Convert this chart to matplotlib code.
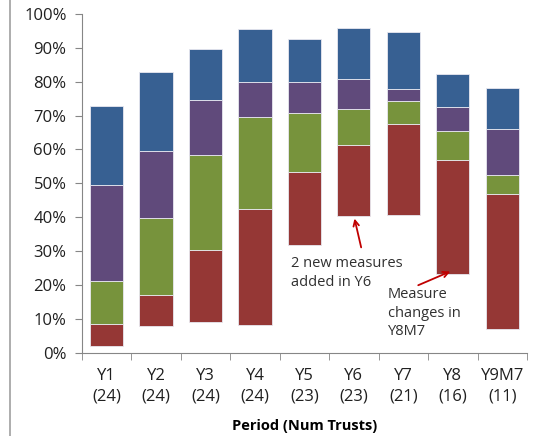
import numpy as np
import matplotlib.pyplot as plt
from matplotlib.lines import Line2D

periods = ["Y1", "Y2", "Y3", "Y4", "Y5", "Y6", "Y7", "Y8", "Y9M7"]
num_trusts = [24, 24, 24, 24, 23, 23, 21, 16, 11]

# level (fraction) at the bottom of each bar and at the top of each band
bottom = [0.021, 0.079, 0.092, 0.081, 0.319, 0.404, 0.407, 0.233, 0.069]
red_top = [0.086, 0.169, 0.303, 0.423, 0.534, 0.613, 0.676, 0.568, 0.469]
green_top = [0.212, 0.399, 0.583, 0.696, 0.707, 0.719, 0.742, 0.654, 0.525]
purple_top = [0.494, 0.595, 0.747, 0.799, 0.799, 0.809, 0.778, 0.724, 0.660]
blue_top = [0.728, 0.828, 0.898, 0.955, 0.925, 0.958, 0.946, 0.822, 0.782]

colors = ["#953735", "#77933C", "#604A7B", "#376092"]

plt.rcParams["font.family"] = ["Open Sans", "DejaVu Sans"]

fig = plt.figure(figsize=(5.35, 4.36), dpi=100)
ax = fig.add_axes([0.153, 0.191, 0.832, 0.777])

x = np.arange(len(periods))
levels = [bottom, red_top, green_top, purple_top, blue_top]
for k in range(4):
    lo = np.array(levels[k])
    hi = np.array(levels[k + 1])
    ax.bar(x, hi - lo, bottom=lo, width=0.67, color=colors[k],
           edgecolor="#e8e8f0", linewidth=0.6)

ax.set_xlim(-0.5, len(periods) - 0.5)
ax.set_ylim(0, 1)
yt = np.arange(0, 1.01, 0.1)
ax.set_yticks(yt)
ax.set_yticklabels([f"{int(round(v * 100))}%" for v in yt])
ax.set_xticks(x)
ax.set_xticklabels([f"{p}\n({n})" for p, n in zip(periods, num_trusts)],
                   linespacing=1.4)
ax.set_xticks(np.arange(-0.5, len(periods), 1), minor=True)
ax.tick_params(axis="x", which="major", length=0, pad=11, labelsize=12,
               colors="#202020")
ax.tick_params(axis="x", which="minor", length=5, color="#868686")
ax.tick_params(axis="y", length=5, pad=6, labelsize=12, colors="#202020")
ax.tick_params(axis="y", color="#868686")

for side in ["top", "right"]:
    ax.spines[side].set_visible(False)
for side in ["left", "bottom"]:
    ax.spines[side].set_color("#868686")

ax.set_xlabel("Period (Num Trusts)", fontsize=10.5, fontweight="bold",
              labelpad=10, color="#000000")

ax.annotate("", xy=(5.0, 0.404), xytext=(5.16, 0.303),
            arrowprops=dict(arrowstyle="->", color="#c00000", lw=1.3))
ax.text(3.73, 0.285, "2 new measures\nadded in Y6", ha="left", va="top",
        fontsize=10.5, color="#303030", linespacing=1.35)

ax.annotate("", xy=(7.0, 0.243), xytext=(6.25, 0.196),
            arrowprops=dict(arrowstyle="->", color="#c00000", lw=1.3))
ax.text(5.69, 0.195, "Measure\nchanges in\nY8M7", ha="left", va="top",
        fontsize=10.5, color="#303030", linespacing=1.35)

fig.add_artist(Line2D([10 / 535, 10 / 535], [0, 1], color="#a0a0a0", lw=1.2))

fig.savefig("out.png", dpi=100)
